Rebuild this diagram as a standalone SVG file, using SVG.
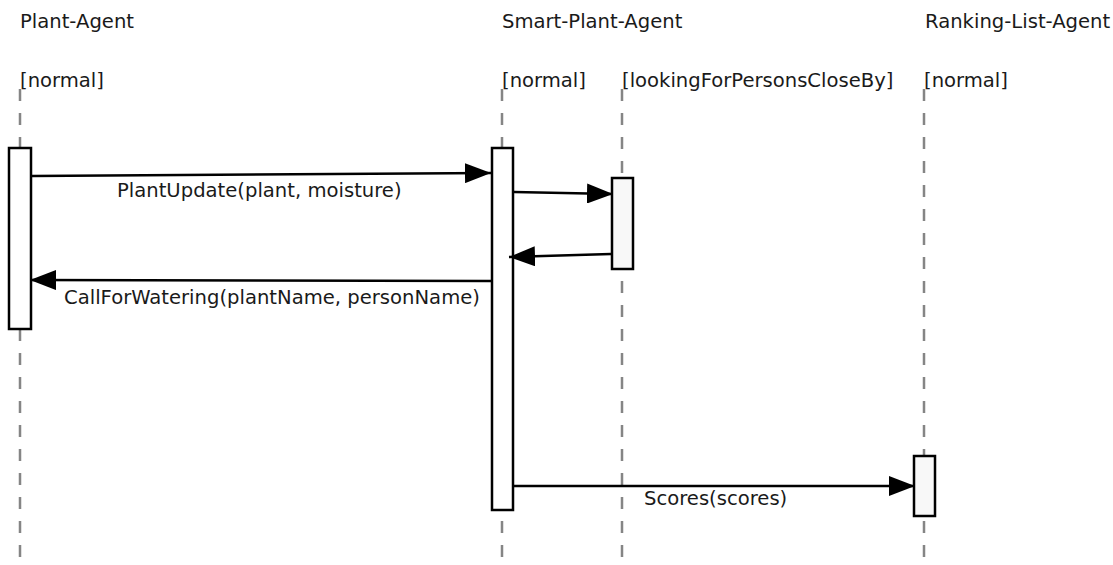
<svg xmlns="http://www.w3.org/2000/svg" width="1113" height="565" viewBox="0 0 1113 565">
  <defs>
    <marker id="head" viewBox="0 0 26 20" refX="26" refY="10" markerWidth="26" markerHeight="20" markerUnits="userSpaceOnUse" orient="auto">
      <path d="M0,0 L26,10 L0,20 Z" fill="#000"/>
    </marker>
    <style>
      text { font-family: "DejaVu Sans", "Liberation Sans", sans-serif; font-size: 19.6px; fill: #1a1a1a; }
      .life { stroke: #858585; stroke-width: 2.5; stroke-dasharray: 12 12; fill: none; }
      .act { stroke: #000; stroke-width: 2.5; fill: #fff; }
      .act2 { stroke: #000; stroke-width: 2.5; fill: #f8f8f8; }
      .msg { stroke: #000; stroke-width: 2.5; fill: none; marker-end: url(#head); }
    </style>
  </defs>
  <rect width="1113" height="565" fill="#fff"/>

  <!-- lifelines -->
  <g id="lifelines">
    <line class="life" x1="20" y1="89" x2="20" y2="565"/>
    <line class="life" x1="502" y1="89" x2="502" y2="565"/>
    <line class="life" x1="622" y1="89" x2="622" y2="565"/>
    <line class="life" x1="924" y1="89" x2="924" y2="565"/>
  </g>

  <g id="plant-agent">
    <text x="20" y="28">Plant-Agent</text>
    <text x="20" y="87">[normal]</text>
    <rect class="act" x="9" y="148" width="22" height="181"/>
  </g>

  <g id="smart-plant-agent">
    <text x="502" y="28">Smart-Plant-Agent</text>
    <text x="502" y="87">[normal]</text>
    <rect class="act" x="492" y="148" width="21" height="362"/>
  </g>

  <g id="smart-plant-agent-looking">
    <text x="622" y="87">[lookingForPersonsCloseBy]</text>
    <rect class="act2" x="612" y="178" width="21" height="91"/>
  </g>

  <g id="ranking-list-agent">
    <text x="925" y="28">Ranking-List-Agent</text>
    <text x="924" y="87">[normal]</text>
    <rect class="act2" x="914" y="456" width="21" height="60"/>
  </g>

  <!-- messages -->
  <g id="connectors">
    <line class="msg" x1="32" y1="176" x2="491" y2="173"/>
    <text x="117" y="197">PlantUpdate(plant, moisture)</text>
    <line class="msg" x1="514" y1="192" x2="613" y2="194"/>
    <line class="msg" x1="611" y1="254" x2="509" y2="257"/>
    <line class="msg" x1="491" y1="281" x2="30" y2="280"/>
    <text x="64" y="304">CallForWatering(plantName, personName)</text>
    <line class="msg" x1="514" y1="486" x2="915" y2="486"/>
    <text x="644" y="505">Scores(scores)</text>
  </g>
</svg>
